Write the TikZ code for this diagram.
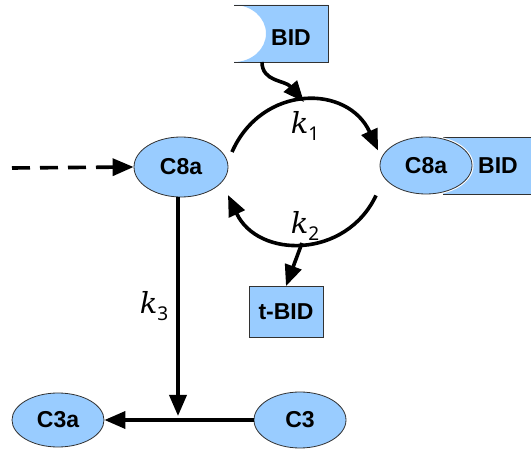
\documentclass[tikz,border=0pt]{standalone}
\usepackage{fontspec}
\setmainfont{Liberation Sans}
\newfontfamily\ratefont{DejaVu Serif}
\newfontfamily\indexfont{Noto Sans}
\usetikzlibrary{arrows.meta,shapes.geometric}
\definecolor{molblue}{RGB}{153,204,255}
\definecolor{edge}{RGB}{50,50,50}
\newcommand{\rateconst}[1]{{\ratefont\itshape k}\raisebox{-7pt}{\indexfont\fontsize{19}{19}\selectfont #1}}
\tikzset{
  species/.style={ellipse, draw=edge, line width=0.8pt, fill=molblue, inner sep=0pt},
  lbl/.style={font=\fontsize{23}{23}\selectfont\bfseries, text=black, inner sep=0pt},
  rate/.style={font=\fontsize{29}{29}\selectfont, inner sep=0pt},
  flow/.style={line width=3.6pt, -{Triangle[length=21pt,width=17pt]}},
}
\begin{document}
\begin{tikzpicture}[x=1pt,y=-1pt]
\path[use as bounding box, fill=white] (0,0) rectangle (531,449);

% BID box with a bite taken out of its left side
\fill[molblue] (234,5) -- (328,5) -- (328,62) -- (234,62)
  arc[start angle=90, end angle=-90, x radius=32, y radius=28.5] -- cycle;
\draw[edge, line width=0.8pt] (234,5) -- (328,5) -- (328,62) -- (234,62);
\node[lbl] (bid) at (291,38) {BID};
\coordinate (bidout) at (262,62);

% free C8a
\node[species, minimum width=94pt, minimum height=60pt] (c8a) at (181,167) {};
\node[lbl] at (c8a) {C8a};

% C8a:BID complex
\fill[molblue] (443,137) rectangle (531,194);
\draw[edge, line width=0.8pt] (443,137) -- (531,137) (443,194) -- (531,194);
\draw[white, line width=3pt] (426,165.5) ellipse[x radius=46, y radius=28.5];
\node[species, minimum width=92pt, minimum height=57pt] (cplx) at (426,165.5) {};
\node[lbl] at (cplx) {C8a};
\node[lbl] (cbid) at (498,165.5) {BID};

% t-BID
\node[rectangle, draw=edge, line width=0.8pt, fill=molblue, minimum width=74pt, minimum height=51pt, inner sep=0pt] (tbid) at (286,312) {};
\node[lbl] at (tbid) {t-BID};

% C3a and C3
\node[species, minimum width=92pt, minimum height=54pt] (c3a) at (58,420) {};
\node[lbl] at (c3a) {C3a};
\node[species, minimum width=92pt, minimum height=56pt] (c3) at (300,420) {};
\node[lbl] at (c3) {C3};

% rate constants
\node[rate] (k1) at (305,126) {\rateconst{1}};
\node[rate] (k2) at (305,226) {\rateconst{2}};
\node[rate] (k3) at (154,306) {\rateconst{3}};

% anchor points of the two curved reactions, kept clear of the ellipses
\coordinate (c8aup) at ([shift={(51,-15)}]c8a.center);
\coordinate (c8alow) at ([shift={(47,28)}]c8a.center);
\coordinate (cplxup) at ([shift={(-48,-15)}]cplx.center);
\coordinate (cplxlow) at ([shift={(-50,30)}]cplx.center);

% incoming dashed flux
\coordinate (src) at (12,168);
\draw[flow, dash pattern=on 18pt off 10pt] (src) -- (c8a.west);

% binding reaction
\coordinate (top) at (304,102);
\draw[flow] (c8aup) .. controls (262,84) and (348,84) .. (cplxup);
\draw[flow] (bidout) .. controls (262,82) and (285,80) .. (top);

% release of t-BID
\coordinate (bot) at (302,243);
\draw[flow] (cplxlow) .. controls (346,259) and (258,259) .. (c8alow);
\draw[flow] (bot) -- (tbid.north);

% C3 activation
\coordinate (meet) at (179,416);
\draw[flow] (c8a.south) ++(-3,0) coordinate (c8foot) -- (c8foot |- meet);
\draw[flow] (c3.west) -- (c3a.east);
\end{tikzpicture}
\end{document}
